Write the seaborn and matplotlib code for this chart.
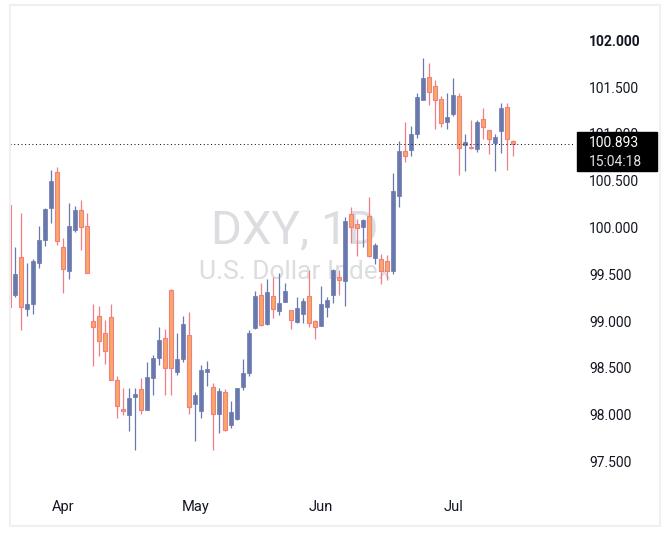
# Velas diarias del DXY (estilo TradingView) con seaborn/matplotlib
import numpy as np
import pandas as pd
import matplotlib
matplotlib.use("Agg")
import matplotlib.pyplot as plt
from matplotlib.patches import Rectangle
import seaborn as sns

# Datos (OHLC por sesion)
opens = [100.24, 99.28, 99.69, 99.13, 99.18, 99.62, 99.87, 100.21, 100.59, 99.79,
         99.53, 99.97, 100.19, 100.02, 99.00, 99.05, 98.87, 99.04, 98.37, 98.06,
         98.00, 98.19, 98.27, 98.05, 98.39, 98.61, 98.82, 99.33, 98.46, 98.60,
         98.85, 98.11, 98.04, 98.46, 98.30, 98.01, 98.24, 97.89, 97.95, 98.30,
         98.45, 98.93, 99.28, 98.97, 99.27, 99.11, 99.20, 99.12, 98.99, 99.08,
         99.27, 99.00, 98.95, 99.15, 99.28, 99.47, 99.43, 100.14, 100.04, 100.01,
         100.12, 99.67, 99.66, 99.64, 99.53, 100.34, 100.82, 100.83, 101.00, 101.36,
         101.61, 101.51, 101.37, 101.13, 101.21, 101.41, 100.88, 100.86, 100.84, 101.16,
         101.04, 100.90, 101.03, 101.29, 100.92]
highs = [100.24, 99.79, 100.16, 99.62, 99.66, 100.02, 100.21, 100.61, 100.65, 99.89,
         100.26, 100.23, 100.29, 100.16, 99.18, 99.16, 99.01, 99.18, 98.41, 98.29,
         98.29, 98.29, 98.39, 98.56, 98.64, 98.94, 98.92, 99.34, 98.87, 99.05,
         99.10, 98.24, 98.53, 98.57, 98.34, 98.29, 98.27, 98.15, 98.29, 98.60,
         98.91, 99.32, 99.41, 99.45, 99.47, 99.51, 99.41, 99.12, 99.26, 99.25,
         99.55, 99.01, 99.38, 99.26, 99.56, 99.55, 100.11, 100.22, 100.09, 100.09,
         100.33, 99.83, 99.72, 99.71, 100.58, 100.92, 101.13, 101.08, 101.44, 101.81,
         101.76, 101.58, 101.41, 101.44, 101.60, 101.44, 101.00, 101.15, 101.15, 101.28,
         101.04, 101.00, 101.33, 101.33, 100.94]
lows = [99.15, 99.26, 98.91, 99.05, 99.08, 99.57, 99.80, 100.05, 99.81, 99.30,
        99.45, 99.95, 99.76, 99.51, 98.52, 98.63, 98.54, 98.37, 97.97, 98.00,
        97.83, 97.62, 98.01, 98.05, 98.21, 98.53, 98.21, 98.21, 98.42, 98.56,
        98.01, 97.72, 97.97, 98.31, 97.62, 97.80, 97.83, 97.86, 97.94, 98.26,
        98.41, 98.92, 98.95, 98.96, 99.03, 99.07, 99.20, 98.92, 98.98, 98.98,
        98.94, 98.81, 98.95, 99.04, 99.19, 99.28, 99.16, 99.83, 99.70, 99.79,
        99.69, 99.61, 99.40, 99.44, 99.50, 100.22, 100.70, 100.76, 100.96, 101.36,
        101.31, 101.05, 101.07, 101.05, 101.19, 100.56, 100.60, 100.84, 100.81, 100.95,
        100.79, 100.60, 100.80, 100.61, 100.76]
closes = [99.15, 99.50, 99.15, 99.18, 99.64, 99.87, 100.20, 100.50, 99.86, 99.56,
          100.02, 100.19, 100.00, 99.51, 98.94, 98.79, 98.68, 98.37, 98.09, 98.04,
          98.18, 98.22, 98.05, 98.40, 98.61, 98.80, 98.50, 98.50, 98.60, 98.97,
          98.08, 98.21, 98.48, 98.49, 98.01, 98.25, 97.84, 98.03, 98.29, 98.45,
          98.87, 99.27, 98.96, 99.31, 99.13, 99.19, 99.32, 99.01, 99.14, 99.22,
          98.98, 98.94, 99.18, 99.23, 99.55, 99.44, 100.07, 100.01, 99.99, 100.08,
          99.70, 99.81, 99.54, 99.54, 100.39, 100.82, 100.76, 101.00, 101.39, 101.60,
          101.45, 101.36, 101.12, 101.18, 101.42, 100.85, 100.91, 100.85, 101.13, 101.07,
          100.95, 100.97, 101.28, 100.95, 100.893]

month_pos = [9, 31, 52, 74]
month_labels = ["Apr", "May", "Jun", "Jul"]
price_ticks = [97.5, 98.0, 98.5, 99.0, 99.5, 100.0, 100.5, 101.0, 101.5, 102.0]
last_price = 100.893
last_time = "15:04:18"

df = pd.DataFrame({"open": opens, "high": highs, "low": lows, "close": closes})
df["x"] = np.arange(len(df))
df["up"] = df["close"] >= df["open"]

# Estilo
sns.set_theme(style="white")
plt.rcParams["font.family"] = ["Roboto", "DejaVu Sans"]

up_color = "#6a79ad"
down_fill = "#f9a862"
down_edge = "#ef7f87"
text_color = "#131722"

W, H = 670, 544
fig = plt.figure(figsize=(W / 100, H / 100), dpi=100, facecolor="white")
ax = fig.add_axes([10 / W, (H - 490) / H, 565 / W, 485 / H])

# Marca de agua
ax.text(0.504, 0.509, "DXY, 1D", transform=ax.transAxes, ha="center", va="baseline",
        fontsize=34, color="#dcdde1", zorder=0)
ax.text(0.504, 0.435, "U.S. Dollar Index", transform=ax.transAxes, ha="center",
        va="baseline", fontsize=19, color="#dcdde1", zorder=0)

# Mechas
up = df[df["up"]]
down = df[~df["up"]]
ax.vlines(up["x"], up["low"], up["high"], color=up_color, lw=0.9, zorder=2)
ax.vlines(down["x"], down["low"], down["high"], color=down_edge, lw=0.9, zorder=2)

# Cuerpos
ax.bar(up["x"], up["close"] - up["open"], bottom=up["open"], width=0.72,
       color=up_color, edgecolor=up_color, linewidth=0.5, zorder=3)
ax.bar(down["x"], down["open"] - down["close"], bottom=down["close"], width=0.72,
       color=down_fill, edgecolor=down_edge, linewidth=0.8, zorder=3)

# Linea del ultimo precio
ax.axhline(last_price, color=text_color, lw=0.75, linestyle=(0, (1, 2.5)), zorder=4)

ax.set_xlim(0.12, 94.28)
ax.set_ylim(97.1955, 102.377)
sns.despine(ax=ax, left=True, bottom=True)
ax.grid(False)

ax.yaxis.tick_right()
ax.set_yticks(price_ticks)
ax.set_yticklabels([f"{v:.3f}" for v in price_ticks])
ax.tick_params(axis="y", length=0, pad=10, labelsize=10, labelcolor=text_color)
ax.get_yticklabels()[-1].set_fontweight("bold")

ax.set_xticks(month_pos)
ax.set_xticklabels(month_labels)
ax.tick_params(axis="x", length=0, pad=7, labelsize=10.5, labelcolor=text_color)

# Etiqueta del precio actual
fig.add_artist(Rectangle((577 / W, (H - 171) / H), 80 / W, 39 / H,
                         transform=fig.transFigure, color="black", zorder=5))
fig.text(589 / W, (H - 143) / H, f"{last_price:.3f}", color="white", va="center",
         fontsize=10, zorder=6)
fig.text(589 / W, (H - 162) / H, last_time, color="#e0e3eb", va="center",
         fontsize=10, zorder=6)

# Marco exterior
fig.add_artist(Rectangle((10 / W, (H - 526) / H), 650 / W, 521 / H,
                         transform=fig.transFigure, fill=False,
                         edgecolor="#f0f0f0", lw=1.5, zorder=7))

fig.savefig("out.png", dpi=100, facecolor="white")
